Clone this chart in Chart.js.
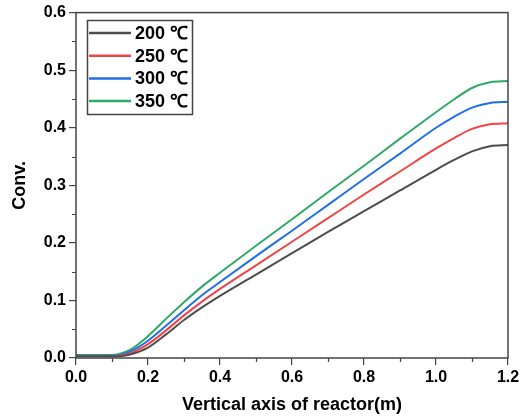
<!DOCTYPE html>
<html>
<head>
<meta charset="utf-8">
<script src="https://cdn.jsdelivr.net/npm/chart.js@4/dist/chart.umd.min.js"></script>
<style>
  html, body { margin: 0; padding: 0; background: #fff; }
  #wrap { width: 527px; height: 416px; }
</style>
</head>
<body>
<div id="wrap"><canvas id="chart" width="527" height="416"></canvas></div>
<script>
const positions = [0, 0.05, 0.1, 0.12, 0.15, 0.2, 0.25, 0.3, 0.35, 0.4, 0.5, 0.6, 0.7, 0.8, 0.9, 1.0, 1.05, 1.1, 1.15, 1.2];
const conv200 = [0.003, 0.003, 0.003, 0.003, 0.006, 0.018, 0.041, 0.066, 0.088, 0.108, 0.145, 0.182, 0.219, 0.255, 0.291, 0.327, 0.344, 0.359, 0.368, 0.370];
const conv250 = [0.003, 0.003, 0.003, 0.004, 0.008, 0.024, 0.048, 0.074, 0.098, 0.120, 0.161, 0.202, 0.243, 0.284, 0.324, 0.364, 0.382, 0.398, 0.406, 0.408];
const conv300 = [0.004, 0.004, 0.004, 0.005, 0.011, 0.030, 0.056, 0.083, 0.109, 0.132, 0.177, 0.221, 0.266, 0.311, 0.355, 0.400, 0.419, 0.435, 0.443, 0.445];
const conv350 = [0.005, 0.005, 0.005, 0.007, 0.014, 0.038, 0.068, 0.097, 0.124, 0.148, 0.195, 0.241, 0.288, 0.334, 0.381, 0.427, 0.449, 0.469, 0.479, 0.481];
const seriesLabels = ["200 ℃", "250 ℃", "300 ℃", "350 ℃"];
const seriesColors = ["#4d4d4d", "#f04545", "#1f6fe6", "#2fa868"];
const xTicks = [0, 0.2, 0.4, 0.6, 0.8, 1.0, 1.2];
const yTicks = [0, 0.1, 0.2, 0.3, 0.4, 0.5, 0.6];

const allSeries = [conv200, conv250, conv300, conv350];
const datasets = allSeries.map((vals, i) => ({
  label: seriesLabels[i],
  data: vals.map((v, j) => ({ x: positions[j], y: v })),
  borderColor: seriesColors[i],
  backgroundColor: seriesColors[i],
  borderWidth: 2,
  pointRadius: 0,
  cubicInterpolationMode: "monotone",
}));

// frame, minor ticks and boxed legend
const framePlugin = {
  id: "frame",
  afterDraw(chart) {
    const ctx = chart.ctx;
    const a = chart.chartArea;
    const xs = chart.scales.x;
    const ys = chart.scales.y;
    ctx.save();
    ctx.strokeStyle = "#444";
    ctx.lineWidth = 1.5;
    ctx.strokeRect(a.left, a.top, a.right - a.left, a.bottom - a.top);

    // minor ticks
    ctx.lineWidth = 1.2;
    ctx.beginPath();
    for (let i = 0; i < xTicks.length - 1; i++) {
      const px = Math.round(xs.getPixelForValue((xTicks[i] + xTicks[i + 1]) / 2)) + 0.5;
      ctx.moveTo(px, a.bottom);
      ctx.lineTo(px, a.bottom + 4);
    }
    for (let i = 0; i < yTicks.length - 1; i++) {
      const py = Math.round(ys.getPixelForValue((yTicks[i] + yTicks[i + 1]) / 2)) + 0.5;
      ctx.moveTo(a.left, py);
      ctx.lineTo(a.left - 4, py);
    }
    ctx.stroke();

    // legend
    ctx.lineWidth = 1.5;
    ctx.strokeStyle = "#444";
    ctx.strokeRect(87.5, 20.5, 105, 94);
    ctx.font = "bold 18px 'Liberation Sans', Arial, sans-serif";
    ctx.textBaseline = "middle";
    ctx.fillStyle = "#000";
    chart.data.datasets.forEach((ds, i) => {
      const y = 33 + i * 22.7;
      ctx.strokeStyle = ds.borderColor;
      ctx.lineWidth = 2.5;
      ctx.beginPath();
      ctx.moveTo(89, y);
      ctx.lineTo(131, y);
      ctx.stroke();
      ctx.fillText(ds.label, 135, y + 1);
    });
    ctx.restore();
  },
};

new Chart(document.getElementById("chart"), {
  type: "line",
  data: { datasets },
  plugins: [framePlugin],
  options: {
    responsive: false,
    animation: false,
    layout: { padding: { left: 0, right: 19, top: 12, bottom: 0 } },
    plugins: { legend: { display: false }, tooltip: { enabled: false } },
    scales: {
      x: {
        type: "linear",
        min: 0,
        max: 1.2,
        afterBuildTicks: (s) => { s.ticks = xTicks.map((v) => ({ value: v })); },
        afterFit: (s) => { s.height = 58; },
        border: { display: false },
        grid: { drawOnChartArea: false, tickLength: 7, color: "#444", lineWidth: 1.2 },
        ticks: {
          color: "#000",
          padding: 3,
          maxRotation: 0,
          font: { family: "'Liberation Sans', Arial, sans-serif", size: 16, weight: "bold" },
          callback: (v) => Number(v).toFixed(1),
        },
        title: {
          display: true,
          text: "Vertical axis of reactor(m)",
          color: "#000",
          padding: { top: 2, bottom: 0 },
          font: { family: "'Liberation Sans', Arial, sans-serif", size: 18, weight: "bold" },
        },
      },
      y: {
        type: "linear",
        min: 0,
        max: 0.6,
        afterBuildTicks: (s) => { s.ticks = yTicks.map((v) => ({ value: v })); },
        afterFit: (s) => { s.width = 76; },
        border: { display: false },
        grid: { drawOnChartArea: false, tickLength: 7, color: "#444", lineWidth: 1.2 },
        ticks: {
          color: "#000",
          padding: 3,
          font: { family: "'Liberation Sans', Arial, sans-serif", size: 16, weight: "bold" },
          callback: (v) => Number(v).toFixed(1),
        },
        title: {
          display: true,
          text: "Conv.",
          color: "#000",
          padding: { top: 9, bottom: 0 },
          font: { family: "'Liberation Sans', Arial, sans-serif", size: 18, weight: "bold" },
        },
      },
    },
  },
});
</script>
</body>
</html>
